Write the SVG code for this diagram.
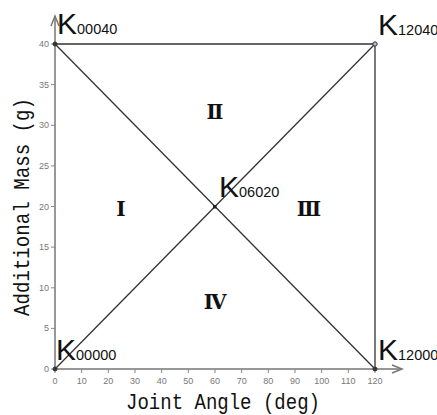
<svg xmlns="http://www.w3.org/2000/svg" width="437" height="415" viewBox="0 0 437 415">
<style>
.axis{stroke:#777;stroke-width:1.5;fill:none}
.tick{stroke:#888;stroke-width:1}
.tl{font-family:"Liberation Sans Narrow","Liberation Sans",sans-serif;font-size:9px;fill:#777}
.edge{stroke:#333;stroke-width:1.3;fill:none}
.dot{fill:#333;stroke:#333;stroke-width:1}
.k{font-family:"Liberation Sans Narrow","Liberation Sans",sans-serif;font-size:30px;fill:#111}
.sub{font-family:"Liberation Sans",sans-serif;font-size:14.5px}
.rom{font-family:"DejaVu Serif",serif;font-size:20px;font-weight:bold;fill:#111;text-anchor:middle}
.title{font-family:"Liberation Mono",monospace;font-size:22px;fill:#111;text-anchor:middle}
</style>
<rect width="437" height="415" fill="#fff"/>
<g id="axes">
<path class="axis" d="M55,369 H401 M55,369 V16"/>
<path class="axis" d="M392,365 L402,369 L392,373 M51,26 L55,16 L59,26" stroke-width="1"/>
<g class="tick">
<path d="M55,369v4M81.7,369v4M108.3,369v4M135,369v4M161.7,369v4M188.3,369v4M215,369v4M241.7,369v4M268.3,369v4M295,369v4M321.7,369v4M348.3,369v4M375,369v4"/>
<path d="M55,369h-4M55,328.4h-4M55,287.8h-4M55,247.1h-4M55,206.5h-4M55,165.9h-4M55,125.3h-4M55,84.6h-4M55,44h-4"/>
</g>
<g class="tl" text-anchor="middle">
<text x="55" y="384">0</text><text x="81.7" y="384">10</text><text x="108.3" y="384">20</text><text x="135" y="384">30</text><text x="161.7" y="384">40</text><text x="188.3" y="384">50</text><text x="215" y="384">60</text><text x="241.7" y="384">70</text><text x="268.3" y="384">80</text><text x="295" y="384">90</text><text x="321.7" y="384">100</text><text x="348.3" y="384">110</text><text x="375" y="384">120</text>
</g>
<g class="tl" text-anchor="end">
<text x="49" y="372">0</text><text x="49" y="331.4">5</text><text x="49" y="290.8">10</text><text x="49" y="250.1">15</text><text x="49" y="209.5">20</text><text x="49" y="168.9">25</text><text x="49" y="128.3">30</text><text x="49" y="87.6">35</text><text x="49" y="47">40</text>
</g>
<text class="title" x="223" y="409" textLength="194" lengthAdjust="spacingAndGlyphs">Joint Angle (deg)</text>
<text class="title" transform="translate(29,207) rotate(-90)" textLength="218" lengthAdjust="spacingAndGlyphs">Additional Mass (g)</text>
</g>
<g id="connectors">
<path class="edge" d="M55,44 H375 V369"/>
<path class="edge" d="M55,44 L375,369"/>
<path class="edge" d="M55,369 L375,44"/>
</g>
<g id="K00000"><circle class="dot" cx="55" cy="369" r="2"/><text class="k" x="56" y="360">K<tspan class="sub">00000</tspan></text></g>
<g id="K00040"><circle class="dot" cx="55" cy="44" r="2"/><text class="k" x="57" y="34">K<tspan class="sub">00040</tspan></text></g>
<g id="K12040"><circle cx="375" cy="44" r="2.2" fill="#bbb" stroke="#333" stroke-width="1"/><text class="k" x="378" y="35">K<tspan class="sub">12040</tspan></text></g>
<g id="K12000"><circle class="dot" cx="375" cy="369" r="2"/><text class="k" x="378" y="360">K<tspan class="sub">12000</tspan></text></g>
<g id="K06020"><rect x="213" y="205" width="3.5" height="3.5" fill="#222"/><text class="k" x="219" y="197">K<tspan class="sub">06020</tspan></text></g>
<g id="regions">
<text class="rom" x="121" y="216">Ⅰ</text>
<text class="rom" x="215" y="119">Ⅱ</text>
<text class="rom" x="309" y="216">Ⅲ</text>
<text class="rom" x="215" y="309">Ⅳ</text>
</g>
</svg>
